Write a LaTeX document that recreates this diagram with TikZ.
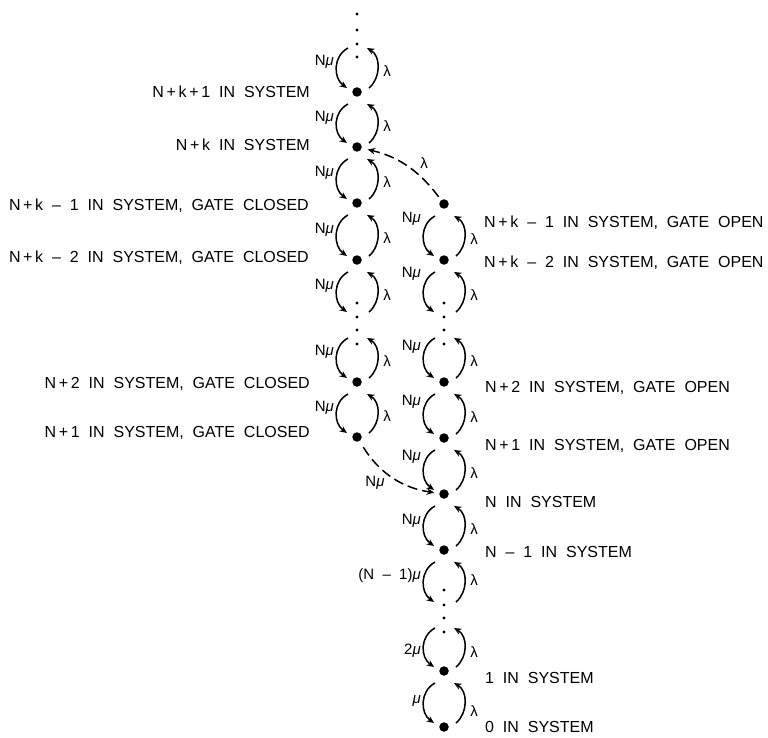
\documentclass[tikz,border=0pt]{standalone}
\usepackage{fontspec}
\setmainfont[WordSpace=2.0]{Liberation Sans}
\usetikzlibrary{arrows.meta,calc}
\newcommand\mutxt{{\itshape μ}}
\newcommand\arcpair[6]{%
  \draw[arcline] ([shift={(-9,12)}]#1.center) .. controls ([shift={(-24,20)}]#1.center) and ([shift={(-24,-14)}]#2.center) .. ([shift={(-10,-4)}]#2.center);
  \draw[arcline] ([shift={(12,-4)}]#2.center) .. controls ([shift={(24,-14)}]#2.center) and ([shift={(24,20)}]#1.center) .. ([shift={(10,12)}]#1.center);
  \node[rl,anchor=east] (#1mu) at ($(#1)!0.5!(#2)+(-22,-2+#5)$) {#3};
  \node[rl] (#1lam) at ($(#1)!0.5!(#2)+(30,7+#6)$) {#4};
}
\begin{document}
\begin{tikzpicture}[x=1pt,y=-1pt,
  st/.style={circle,fill=black,inner sep=0pt,minimum size=9.5pt},
  ed/.style={circle,fill=black,inner sep=0pt,minimum size=3.4pt},
  arcline/.style={line width=1.5pt,-{Stealth[length=7.5pt,width=6.5pt,inset=2.5pt]}},
  dasharc/.style={arcline,dash pattern=on 10pt off 5pt},
  txt/.style={font=\fontsize{16}{19}\selectfont,inner sep=0pt,text height=11.5pt,text depth=0pt},
  rl/.style={font=\fontsize{15}{17}\selectfont,inner sep=1pt}]
\useasboundingbox (0,0) rectangle (768,738);
% left column
\foreach \y [count=\i] in {14,30,44,57} \node[ed] (dLa\i) at (357,\y) {};
\coordinate (vL0) at (357,36);
\node[st] (L1) at (357,92) {};
\node[st] (L2) at (357,147) {};
\node[st] (L3) at (357,203) {};
\node[st] (L4) at (357,260) {};
\foreach \y [count=\i] in {303,317,330,344} \node[ed] (dLb\i) at (357,\y) {};
\coordinate (vL5a) at (357,316);
\coordinate (vL5b) at (357,326);
\node[st] (L6) at (357,382) {};
\node[st] (L7) at (357,437) {};
% right column
\node[st] (R1) at (444,204) {};
\node[st] (R2) at (444,260) {};
\foreach \y [count=\i] in {303,317,330,344} \node[ed] (dRa\i) at (444,\y) {};
\coordinate (vR3a) at (444,316);
\coordinate (vR3b) at (444,326);
\node[st] (R4) at (444,382) {};
\node[st] (R5) at (444,438) {};
\node[st] (R6) at (444,494) {};
\node[st] (R7) at (444,550) {};
\foreach \y [count=\i] in {590,605,618,632} \node[ed] (dRb\i) at (444,\y) {};
\coordinate (vR8a) at (444,606);
\coordinate (vR8b) at (444,616);
\node[st] (R9) at (444,671) {};
\node[st] (R10) at (444,727) {};
% loops
\arcpair{vL0}{L1}{N\mutxt}{λ}{0}{0}
\arcpair{L1}{L2}{N\mutxt}{λ}{0}{0}
\arcpair{L2}{L3}{N\mutxt}{λ}{0}{0}
\arcpair{L3}{L4}{N\mutxt}{λ}{0}{0}
\arcpair{L4}{vL5a}{N\mutxt}{λ}{0}{0}
\arcpair{vL5b}{L6}{N\mutxt}{λ}{0}{0}
\arcpair{L6}{L7}{N\mutxt}{λ}{0}{0}
\arcpair{R1}{R2}{N\mutxt}{λ}{-11}{0}
\arcpair{R2}{vR3a}{N\mutxt}{λ}{-12}{0}
\arcpair{vR3b}{R4}{N\mutxt}{λ}{-5}{0}
\arcpair{R4}{R5}{N\mutxt}{λ}{-6}{0}
\arcpair{R5}{R6}{N\mutxt}{λ}{-7}{0}
\arcpair{R6}{R7}{N\mutxt}{λ}{1}{0}
\arcpair{R7}{vR8a}{(N – 1)\mutxt}{λ}{0}{-5}
\arcpair{vR8b}{R9}{2\mutxt}{λ}{9}{2}
\arcpair{R9}{R10}{\mutxt}{λ}{4}{5}
% dashed transitions
\draw[dasharc,shorten <=4pt,shorten >=6pt] (R1) to[bend right=20] (L2);
\node[rl] (dlam) at (424,163) {λ};
\draw[dasharc,shorten <=7pt,shorten >=5pt] (L7) to[bend right=25] (R6);
\node[rl] (dmu) at (375,483) {N\mutxt};
% left labels
\node[txt,anchor=east] (tL1) at (310,92) {N\,+\,k\,+\,1 IN SYSTEM};
\node[txt,anchor=east] (tL2) at (310,145) {N\,+\,k IN SYSTEM};
\node[txt,anchor=east] (tL3) at (309,205) {N\,+\,k – 1 IN SYSTEM, GATE CLOSED};
\node[txt,anchor=east] (tL4) at (309,257) {N\,+\,k – 2 IN SYSTEM, GATE CLOSED};
\node[txt,anchor=east] (tL6) at (310,383) {N\,+\,2 IN SYSTEM, GATE CLOSED};
\node[txt,anchor=east] (tL7) at (310,432) {N\,+\,1 IN SYSTEM, GATE CLOSED};
% right labels
\node[txt,anchor=west] (tR1) at (484,222) {N\,+\,k – 1 IN SYSTEM, GATE OPEN};
\node[txt,anchor=west] (tR2) at (484,262) {N\,+\,k – 2 IN SYSTEM, GATE OPEN};
\node[txt,anchor=west] (tR4) at (485,387) {N\,+\,2 IN SYSTEM, GATE OPEN};
\node[txt,anchor=west] (tR5) at (485,445) {N\,+\,1 IN SYSTEM, GATE OPEN};
\node[txt,anchor=west] (tR6) at (485,502) {N IN SYSTEM};
\node[txt,anchor=west] (tR7) at (485,552) {N – 1 IN SYSTEM};
\node[txt,anchor=west] (tR9) at (485,678) {1 IN SYSTEM};
\node[txt,anchor=west] (tR10) at (485,727) {0 IN SYSTEM};
\end{tikzpicture}
\end{document}
